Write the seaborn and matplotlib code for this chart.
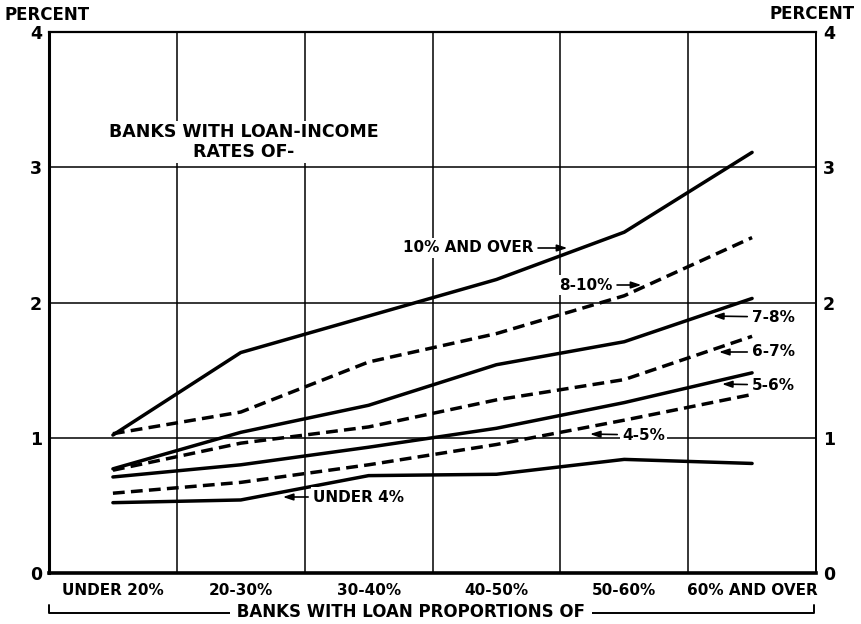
import matplotlib
matplotlib.use("Agg")
import matplotlib.pyplot as plt
import seaborn as sns
import pandas as pd

# ---------------------------
# data
# ---------------------------
categories = ["UNDER 20%", "20-30%", "30-40%", "40-50%", "50-60%", "60% AND OVER"]

rate_10_over = [1.02, 1.63, 1.90, 2.17, 2.52, 3.11]
rate_8_10 = [1.03, 1.19, 1.56, 1.77, 2.05, 2.48]
rate_7_8 = [0.77, 1.04, 1.24, 1.54, 1.71, 2.03]
rate_6_7 = [0.76, 0.96, 1.08, 1.28, 1.43, 1.75]
rate_5_6 = [0.71, 0.80, 0.93, 1.07, 1.26, 1.48]
rate_4_5 = [0.59, 0.67, 0.80, 0.95, 1.13, 1.32]
rate_under_4 = [0.52, 0.54, 0.72, 0.73, 0.84, 0.81]

series_names = ["10% AND OVER", "8-10%", "7-8%", "6-7%", "5-6%", "4-5%", "UNDER 4%"]
series_values = [rate_10_over, rate_8_10, rate_7_8, rate_6_7, rate_5_6, rate_4_5, rate_under_4]
series_dashed = [False, True, False, True, False, True, False]

yticks = [0, 1, 2, 3, 4]

sns.set_style("white")
plt.rcParams["font.family"] = ["DejaVu Sans"]
plt.rcParams["text.color"] = "black"
plt.rcParams["xtick.color"] = "black"
plt.rcParams["ytick.color"] = "black"

fig = plt.figure(figsize=(8.61, 6.24), dpi=100)
ax = fig.add_axes([49 / 861, 1 - 573 / 624, 767 / 861, 541 / 624])

xpos = list(range(len(categories)))
for name, vals, dashed in zip(series_names, series_values, series_dashed):
    df = pd.DataFrame({"x": xpos, "y": vals})
    sns.lineplot(data=df, x="x", y="y", ax=ax, color="black", lw=2.5)
    l = ax.lines[-1]
    if dashed:
        l.set_dashes((3.4, 1.8))
    l.set_solid_capstyle("round")

ax.set_xlim(-0.5, 5.5)
ax.set_ylim(0, 4)

# grid
for gx in [0.5, 1.5, 2.5, 3.5, 4.5]:
    ax.axvline(gx, color="black", lw=1.1, zorder=1)
for gy in [1, 2, 3]:
    ax.axhline(gy, color="black", lw=1.1, zorder=1)

for side, w in [("left", 2.2), ("bottom", 2.6), ("top", 1.6), ("right", 1.4)]:
    ax.spines[side].set_visible(True)
    ax.spines[side].set_color("black")
    ax.spines[side].set_linewidth(w)

ax.set_xticks(xpos)
ax.set_xticklabels(categories, fontsize=11, fontweight="bold")
ax.set_yticks(yticks)
ax.set_yticklabels([str(t) for t in yticks], fontsize=12.5, fontweight="bold")
ax.tick_params(axis="both", length=0, pad=7)
ax.tick_params(axis="y", labelright=True, right=False, pad=5)
ax.set_xlabel("")
ax.set_ylabel("")

fig.text(5 / 861, 1 - 15 / 624, "PERCENT", fontsize=12, fontweight="bold", va="center")
fig.text(855 / 861, 1 - 14 / 624, "PERCENT", fontsize=12, fontweight="bold", va="center", ha="right")

def px(x):
    return (x - 49) / 127.8 - 0.5

def py(y):
    return (573 - y) / 135.25

white = dict(facecolor="white", edgecolor="none", pad=1.5)
ax.text(px(244), py(142), "BANKS WITH LOAN-INCOME\nRATES OF-", fontsize=12.5, fontweight="bold",
        ha="center", va="center", linespacing=1.15, bbox=white, zorder=3)

arrow = dict(arrowstyle="-|>,head_length=0.6,head_width=0.2", color="black", lw=1.2, mutation_scale=10)
# text, text anchor (px), arrow tip (px), horizontal alignment
labels = [
    ("10% AND OVER", (533, 248), (570, 248), "right"),
    ("8-10%", (612, 285), (644, 285), "right"),
    ("7-8%", (752, 317), (710, 316), "left"),
    ("6-7%", (752, 352), (716, 352), "left"),
    ("5-6%", (752, 385), (719, 384), "left"),
    ("4-5%", (622, 435), (587, 434), "left"),
    ("UNDER 4%", (313, 497), (280, 497), "left"),
]
for txt, (tx, ty), (ax_, ay_), ha in labels:
    ax.annotate(txt, xy=(px(ax_), py(ay_)), xytext=(px(tx), py(ty)),
                fontsize=11, fontweight="bold", ha=ha, va="center",
                arrowprops=arrow, bbox=white, zorder=4)

# bracket under the x labels
yb = 1 - 613 / 624
yt = 1 - 605 / 624
fig.add_artist(plt.Line2D([49 / 861, 49 / 861, 814 / 861, 814 / 861], [yt, yb, yb, yt],
                          color="black", lw=1.4, transform=fig.transFigure))
fig.text(411 / 861, 1 - 612 / 624, " BANKS WITH LOAN PROPORTIONS OF ", fontsize=12, fontweight="bold",
         ha="center", va="center", bbox=dict(facecolor="white", edgecolor="none", pad=0.5))

fig.savefig("out.png", dpi=100)
plt.close(fig)
